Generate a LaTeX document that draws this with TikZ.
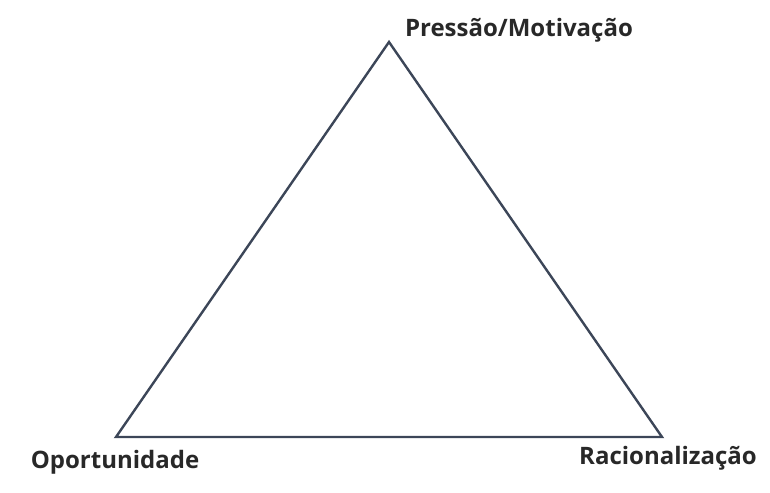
\documentclass[tikz,border=0pt]{standalone}
\usepackage{fontspec}
\setmainfont{Open Sans}
\usepackage{tikz}
\usetikzlibrary{positioning}
\definecolor{EdgeGray}{RGB}{60,70,88}
\definecolor{LabelGray}{RGB}{40,40,40}

\begin{document}
\begin{tikzpicture}[
    x=0.5pt, y=-0.5pt,
    corner/.style={font=\bfseries\fontsize{12}{14}\selectfont, text=LabelGray, inner sep=0pt},
    edge/.style={draw=EdgeGray, line width=1.2pt, line join=miter}
]
\useasboundingbox (0,0) rectangle (770,492);
\coordinate (top) at (389,42);
\coordinate (left) at (116,437);
\coordinate (right) at (662,437);

\node[corner] (pressao) at (519,30) {Pressão/Motivação};
\node[corner] (oport) at (115,462) {Oportunidade};
\node[corner] (racio) at (668,458) {Racionalização};

\draw[edge] (top) -- (right) -- (left) -- cycle;
\end{tikzpicture}
\end{document}
